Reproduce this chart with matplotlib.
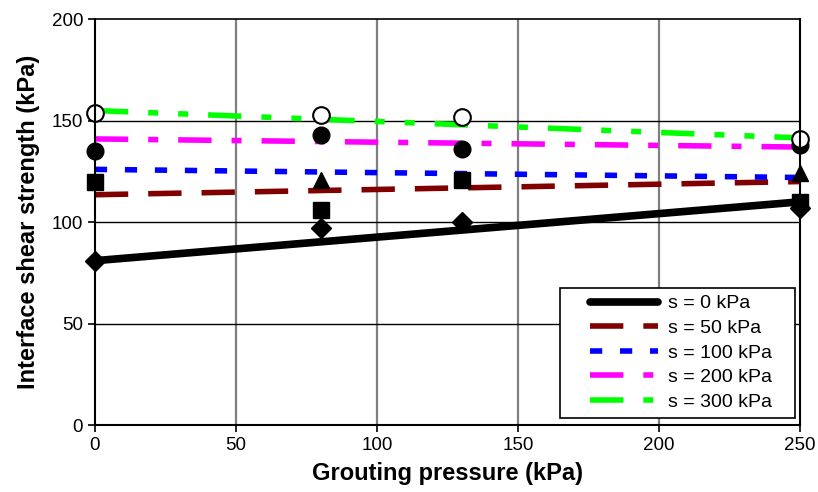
import numpy as np
import matplotlib
matplotlib.use("Agg")
import matplotlib.pyplot as plt
from matplotlib.patches import Rectangle

plt.rcParams["font.family"] = ["Liberation Sans", "DejaVu Sans"]

# Measured interface shear strength (kPa) at each grouting pressure
pressure = [0, 80, 130, 250]
s0_pts = [81, 97, 100, 107]
s50_pts = [120, 106, 121, 110]
s100_x = [80, 250]
s100_pts = [121, 124]
s200_pts = [135, 143, 136, 138]
s300_pts = [154, 153, 152, 141]

# Trend lines (end points at 0 and 250 kPa)
fit_x = [0, 250]
fit_s0 = [81, 110]
fit_s50 = [113.5, 120]
fit_s100 = [126, 122]
fit_s200 = [141, 137]
fit_s300 = [155, 141.5]

labels = ["s = 0 kPa", "s = 50 kPa", "s = 100 kPa", "s = 200 kPa", "s = 300 kPa"]

fig = plt.figure(figsize=(8.18, 4.92), dpi=100)
ax = fig.add_axes([0.116, 0.136, 0.862, 0.825])

# grid: grey verticals, black horizontals
for xv in [50, 100, 150, 200]:
    ax.axvline(xv, color="#7f7f7f", lw=1.6, zorder=1)
for yv in [50, 100, 150]:
    ax.axhline(yv, color="black", lw=1.0, zorder=1)

ax.plot(fit_x, fit_s0, color="black", lw=5.5, solid_capstyle="round", label=labels[0], zorder=3)
ax.plot(fit_x, fit_s50, color="#800000", lw=4, dashes=(6, 3.6), label=labels[1], zorder=3)
ax.plot(fit_x, fit_s100, color="#0000ff", lw=4, dashes=(2.2, 3.2), label=labels[2], zorder=3)
ax.plot(fit_x, fit_s200, color="#ff00ff", lw=4, dashes=(6, 3.6, 1.8, 3.6), label=labels[3], zorder=3)
ax.plot(fit_x, fit_s300, color="#00ff00", lw=4, dashes=(6, 3.6, 1.8, 3.6, 1.8, 3.6), label=labels[4], zorder=3)

# measured points
mk = dict(ls="none", zorder=5, clip_on=False)
ax.plot(pressure, s0_pts, "D", color="black", ms=10, **mk)
ax.plot(pressure, s50_pts, "s", color="black", ms=11, **mk)
ax.plot(s100_x, s100_pts, "^", color="black", ms=12, **mk)
ax.plot(pressure, s200_pts, "o", color="black", ms=12, **mk)
ax.plot(pressure, s300_pts, "o", mfc="white", mec="black", mew=1.5, ms=12, **mk)

ax.set_xlim(0, 250)
ax.set_ylim(0, 200)
ax.set_xticks([0, 50, 100, 150, 200, 250])
ax.set_yticks([0, 50, 100, 150, 200])
ax.tick_params(direction="out", length=5, width=1.2, labelsize=13.5, colors="black")
for sp in ax.spines.values():
    sp.set_linewidth(1.5)
    sp.set_zorder(6)
ax.spines["top"].set_linewidth(1.2)

ax.set_xlabel("Grouting pressure (kPa)", fontsize=17, fontweight="bold", labelpad=6)
ax.set_ylabel("Interface shear strength (kPa)", fontsize=17, fontweight="bold", labelpad=8)

# legend box drawn separately so the padding can be uneven
ax.add_patch(Rectangle((0.66, 0.017), 0.333, 0.32, transform=ax.transAxes,
                       facecolor="white", edgecolor="black", lw=1.2, zorder=9, clip_on=False))
leg = ax.legend(loc="upper left", bbox_to_anchor=(0.702, 0.321), borderaxespad=0,
                fontsize=14, handlelength=3.5, handletextpad=0.5, labelspacing=0.36,
                borderpad=0, frameon=False)
leg.set_zorder(10)

fig.savefig("out.png", dpi=100)
